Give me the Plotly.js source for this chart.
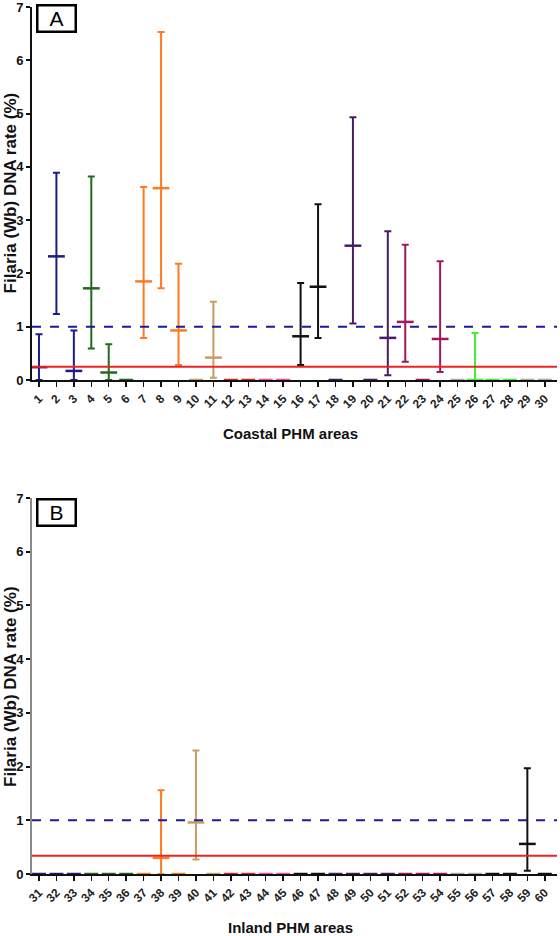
<!DOCTYPE html>
<html><head><meta charset="utf-8">
<script src="https://cdn.plot.ly/plotly-3.0.1.min.js"></script>
<style>body{margin:0;background:#fff}#c{width:560px;height:936px}</style>
</head><body><div id="c"></div>
<script>
// Panel A (coastal PHM areas 1-30)
const areasA = [1,2,3,4,5,6,7,8,9,10,11,12,13,14,15,16,17,18,19,20,21,22,23,24,25,26,27,28,29,30];
const rateA  = [0.24,2.32,0.17,1.72,0.14,0,1.85,3.60,0.93,0,0.42,0,0,0,0,0.82,1.75,0,2.52,0,0.79,1.09,0,0.77,0,0,0,0,0,0];
const lowA   = [0,1.24,0,0.59,0,0,0.79,1.72,0.28,0,0.04,0,0,0,0,0.28,0.79,0,1.06,0,0.09,0.34,0,0.15,0,0,0,0,0,0];
const highA  = [0.86,3.89,0.93,3.82,0.67,0,3.62,6.53,2.18,0,1.47,0,0,0,0,1.82,3.30,0,4.93,0,2.79,2.54,0,2.23,0,0.88,0,0,0,0];
const colorA = ['navy','navy','navy','green','green','green','orange','orange','orange','tan','tan','red','red','pink','pink','black','black','purple','purple','purple','purple','crimson','crimson','crimson','gray','lime','lime','lime','gray','gray'];
const thresholdA = 0.25;

// Panel B (inland PHM areas 31-60)
const areasB = [31,32,33,34,35,36,37,38,39,40,41,42,43,44,45,46,47,48,49,50,51,52,53,54,55,56,57,58,59,60];
const rateB  = [0,0,0,0,0,0,0,0.30,0,0.96,0,0,0,0,0,0,0,0,0,0,0,0,0,0,0,0,0,0,0.56,0];
const lowB   = [0,0,0,0,0,0,0,0,0,0.27,0,0,0,0,0,0,0,0,0,0,0,0,0,0,0,0,0,0,0.06,0];
const highB  = [0,0,0,0,0,0,0,1.56,0,2.30,0,0,0,0,0,0,0,0,0,0,0,0,0,0,0,0,0,0,1.97,0];
const colorB = ['navy','navy','navy','green','green','green','orange','orange','orange','tan','tan','red','red','pink','pink','black','black','purple','purple','purple','purple','crimson','crimson','crimson','gray','gray','black','black','black','black'];
const thresholdB = 0.34;

const reference = 1;
const palette = {navy:'#1d1d86',green:'#1f6b1f',orange:'#ff7a22',tan:'#c99c62',red:'#d42a2a',pink:'#ff45a8',
  black:'#111111',purple:'#4a1a6a',crimson:'#a3185c',gray:'#a8a8a8',lime:'#44ee33'};

const traces = [];
function addPanel(areas, rate, low, high, colors, xa, ya){
  for(let i=0;i<areas.length;i++){
    const c = palette[colors[i]];
    const hasErr = high[i] > 0;
    traces.push({
      type:'scatter', mode:'markers', x:[areas[i]], y:[rate[i]], xaxis:xa, yaxis:ya,
      cliponaxis:false, showlegend:false,
      marker:{symbol:'line-ew', size:hasErr?12:10, line:{color:c, width:2.5}},
      error_y: hasErr ? {type:'data', symmetric:false, array:[high[i]-rate[i]], arrayminus:[rate[i]-low[i]],
        color:c, thickness:2, width:3.5, visible:true} : {visible:false}
    });
  }
}
addPanel(areasA, rateA, lowA, highA, colorA, 'x', 'y');
addPanel(areasB, rateB, lowB, highB, colorB, 'x2', 'y2');

const fam = 'Liberation Sans Narrow, Liberation Sans, Arial, sans-serif';
const font = {family:fam, color:'#111'};
function xax(range, vals, anchor){
  return {range:range, tickmode:'array', tickvals:vals, ticktext:vals.map(String), tickangle:-45, anchor:anchor,
    ticks:'outside', ticklen:5, tickwidth:1.5, tickcolor:'#111',
    showline:true, linecolor:'#111', linewidth:2, showgrid:false, zeroline:false,
    tickfont:{family:fam, size:12, weight:'bold', color:'#222'}};
}
function yax(domain, lc, anchor){
  return {range:[0,7], dtick:1, domain:domain, anchor:anchor, ticks:'outside', ticklen:4, tickwidth:2, tickcolor:'#111',
    showline:true, linewidth:2, linecolor:lc, showgrid:false, zeroline:false, ticklabeloverflow:'allow',
    tickfont:{family:fam, size:13, weight:'bold', color:'#111'}};
}

const layout = {
  width:560, height:936, paper_bgcolor:'#fff', plot_bgcolor:'#fff',
  margin:{l:32, r:3, t:5, b:62}, font:font, showlegend:false,
  xaxis: xax([0.6,30.7], areasA, 'y'),
  yaxis: yax([0.5685,0.9977], '#111', 'x'),
  xaxis2: xax([30.6,60.7], areasB, 'y2'),
  yaxis2: yax([0,0.4327], '#8a8a8a', 'x2'),
  shapes:[
    {type:'line', xref:'x domain', yref:'y', x0:0, x1:1, y0:reference, y1:reference, line:{color:'#1a1aa0', width:2, dash:'dash'}},
    {type:'line', xref:'x domain', yref:'y', x0:0, x1:1, y0:thresholdA, y1:thresholdA, line:{color:'#ee2222', width:2}},
    {type:'line', xref:'x2 domain', yref:'y2', x0:0, x1:1, y0:reference, y1:reference, line:{color:'#1a1aa0', width:2, dash:'dash'}},
    {type:'line', xref:'x2 domain', yref:'y2', x0:0, x1:1, y0:thresholdB, y1:thresholdB, line:{color:'#ee2222', width:2}}
  ],
  annotations:[
    {text:'A', xref:'paper', yref:'paper', x:0.0076, y:1.001, xanchor:'left', yanchor:'top', showarrow:false,
      font:{family:'Liberation Sans, Arial', size:21, color:'#000'}, bordercolor:'#000', borderwidth:2.5, borderpad:0, width:36, height:24, bgcolor:'#fff'},
    {text:'B', xref:'paper', yref:'paper', x:0.0076, y:0.4327, xanchor:'left', yanchor:'top', showarrow:false,
      font:{family:'Liberation Sans, Arial', size:21, color:'#000'}, bordercolor:'#000', borderwidth:2.5, borderpad:0, width:36, height:24, bgcolor:'#fff'},
    {text:'Filaria (Wb) DNA rate (%)', textangle:-90, xref:'paper', yref:'paper', x:-0.042, y:0.7843, xanchor:'center', yanchor:'middle', showarrow:false,
      font:{family:fam, size:17, weight:'bold', color:'#111'}},
    {text:'Filaria (Wb) DNA rate (%)', textangle:-90, xref:'paper', yref:'paper', x:-0.042, y:0.2163, xanchor:'center', yanchor:'middle', showarrow:false,
      font:{family:fam, size:17, weight:'bold', color:'#111'}},
    {text:'Coastal PHM areas', xref:'paper', yref:'paper', x:0.493, y:(874-433)/869, xanchor:'center', yanchor:'middle', showarrow:false,
      font:{family:fam, size:15, weight:'bold', color:'#111'}},
    {text:'Inland PHM areas', xref:'paper', yref:'paper', x:0.493, y:(874-927)/869, xanchor:'center', yanchor:'middle', showarrow:false,
      font:{family:fam, size:15, weight:'bold', color:'#111'}}
  ]
};
Plotly.newPlot('c', traces, layout, {displayModeBar:false, staticPlot:true});
</script></body></html>
